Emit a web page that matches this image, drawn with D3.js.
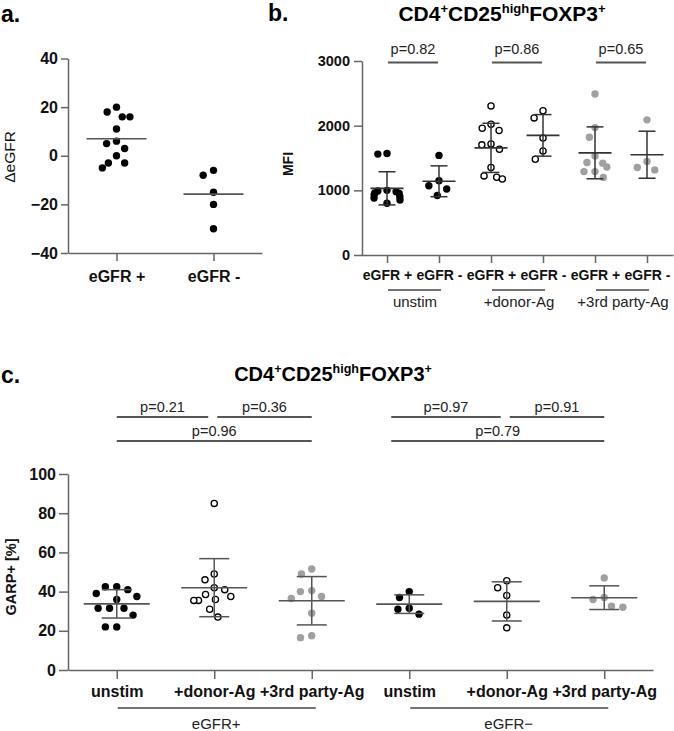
<!DOCTYPE html>
<html>
<head>
<meta charset="utf-8">
<script src="https://cdn.jsdelivr.net/npm/d3@7"></script>
<style>
  body { margin: 0; background: #fff; }
  text { font-family: "Liberation Sans", Arial, Helvetica, sans-serif; }
  .axis path, .axis line { stroke: #666; stroke-width: 1.5; }
  .axis text { fill: #111; font-weight: bold; }
</style>
</head>
<body>
<script>
// panel a: delta eGFR
var aGroups = ["eGFR +", "eGFR -"];
var aValues = [
  [18, 16, 16, 20, 11, 5, 3, 6, 0, -3, -3, -5],
  [-6, -8, -15, -20, -30]
];
var aTicks = [-40, -20, 0, 20, 40];

// panel b: MFI
var bGroups = ["unstim+", "unstim-", "donor+", "donor-", "third+", "third-"];
var bLabels = ["eGFR +", "eGFR -", "eGFR +", "eGFR -", "eGFR +", "eGFR -"];
var bConditions = ["unstim", "+donor-Ag", "+3rd party-Ag"];
var bValues = [
  [1570, 1560, 1000, 990, 980, 960, 950, 930, 900, 880, 850, 800],
  [1540, 1070, 1150, 1020, 920],
  [2306, 2023, 1961, 1925, 1703, 1718, 1636, 1352, 1223, 1176, 1203],
  [2230, 2120, 1810, 1610, 1480],
  [2490, 1970, 1820, 1530, 1420, 1430, 1360, 1290, 1290, 1200],
  [2090, 1445, 1352, 1316]
];
var bTicks = [0, 1000, 2000, 3000];
var bPvalues = ["p=0.82", "p=0.86", "p=0.65"];

// panel c: GARP+ %
var cGroups = ["p-unstim", "p-donor", "p-third", "m-unstim", "m-donor", "m-third"];
var cLabels = ["unstim", "+donor-Ag", "+3rd party-Ag", "unstim", "+donor-Ag", "+3rd party-Ag"];
var cFamilies = ["eGFR+", "eGFR\u2212"];
var cValues = [
  [42.5, 41, 42.5, 39, 36, 37.5, 31.5, 31.5, 31.5, 28, 22, 22],
  [85, 49, 46, 41, 42, 37.5, 38.5, 35.5, 35.5, 36, 31, 27],
  [51.5, 49, 40, 40.5, 36.5, 37.5, 29, 16.5, 17.5],
  [40, 37, 31.5, 31, 28.5],
  [45.5, 42, 38, 28, 21.5],
  [47, 36, 37, 32, 32.5]
];
var cTicks = [0, 20, 40, 60, 80, 100];
// comparisons: [group a, group b, p text, row]
var cComparisons = [
  [0, 1, "p=0.21", 0], [1, 2, "p=0.36", 0], [0, 2, "p=0.96", 1],
  [3, 4, "p=0.97", 0], [4, 5, "p=0.91", 0], [3, 5, "p=0.79", 1]
];

// point style per stimulation: black, open, grey
var fills = ["#000", "#fff", "#a0a0a0"];
var strokes = ["#000", "#000", "#a0a0a0"];

var svg = d3.select("body").append("svg")
    .attr("width", 674)
    .attr("height", 731);

// simple beeswarm: push points sideways until they stop overlapping,
// then squeeze the outer points if the column gets wider than maxHalf
function dodge(vals, y, cx, r, gap, maxHalf) {
  var pts = vals.map(function(v) { return {v: v, y: y(v)}; })
                .sort(function(a, b) { return a.y - b.y; });
  var placed = [];
  var d = 2 * r + gap;
  pts.forEach(function(p) {
    var cands = [0], blocks = [];
    placed.forEach(function(q) {
      var dy = Math.abs(q.y - p.y);
      if (dy < d) {
        var w = Math.sqrt(d * d - dy * dy);
        blocks.push([q.x - w, q.x + w]);
        cands.push(q.x - w, q.x + w);
      }
    });
    cands.sort(function(a, b) { return Math.abs(a) - Math.abs(b); });
    p.x = cands.find(function(c) {
      return blocks.every(function(b) { return c <= b[0] + 1e-6 || c >= b[1] - 1e-6; });
    });
    placed.push(p);
  });
  var widest = d3.max(pts, function(p) { return Math.abs(p.x); });
  pts.forEach(function(p) {
    p.x = cx + (widest > maxHalf ? maxHalf * Math.tanh(p.x / maxHalf) : p.x);
  });
  return pts;
}

function drawGroup(g, vals, cx, y, style, opt) {
  var r = opt.r;
  var pts = dodge(vals, y, cx, r, opt.gap, opt.maxHalf);
  g.selectAll(null)
   .data(pts)
   .enter().append("circle")
   .attr("cx", function(d) { return d.x; })
   .attr("cy", function(d) { return d.y; })
   .attr("r", style == 1 ? r - 0.6 : r)
   .attr("fill", fills[style])
   .attr("stroke", strokes[style])
   .attr("stroke-width", style == 1 ? 1.3 : 0);
  var m = d3.mean(vals);
  g.append("line")
   .attr("x1", cx - opt.meanHalf).attr("x2", cx + opt.meanHalf)
   .attr("y1", y(m)).attr("y2", y(m))
   .attr("stroke", opt.color).attr("stroke-width", 1.6);
  if (opt.sd) {
    var s = d3.deviation(vals);
    g.append("line")
     .attr("x1", cx).attr("x2", cx)
     .attr("y1", y(m - s)).attr("y2", y(m + s))
     .attr("stroke", opt.color).attr("stroke-width", 1.5);
    [m - s, m + s].forEach(function(v) {
      g.append("line")
       .attr("x1", cx - opt.capHalf).attr("x2", cx + opt.capHalf)
       .attr("y1", y(v)).attr("y2", y(v))
       .attr("stroke", opt.color).attr("stroke-width", 1.5);
    });
  }
}

function title(x, y, size, supSize) {
  var t = svg.append("text")
     .attr("x", x).attr("y", y)
     .attr("text-anchor", "middle")
     .attr("font-weight", "bold")
     .attr("font-size", size + "px");
  var parts = [["CD4", 0], ["+", 1], ["CD25", 0], ["high", 1], ["FOXP3", 0], ["+", 1]];
  parts.forEach(function(p, i) {
    var s = t.append("tspan").text(p[0]);
    if (p[1]) s.attr("font-size", supSize + "px").attr("dy", -size * 0.38);
    else if (i > 0) s.attr("dy", size * 0.38);
  });
  return t;
}

function panelLetter(txt, x, y) {
  svg.append("text").attr("x", x).attr("y", y)
     .attr("font-size", "23px").attr("font-weight", "bold").text(txt);
}

function yLabel(txt, x, y, size, weight) {
  svg.append("text")
     .attr("transform", "translate(" + x + "," + y + ") rotate(-90)")
     .attr("text-anchor", "middle")
     .attr("font-size", size + "px")
     .attr("font-weight", weight)
     .attr("fill", "#111")
     .text(txt);
}

// ---------- panel a ----------
panelLetter("a.", 1, 22);
var yA = d3.scaleLinear().domain([-40, 40]).range([253, 58.5]);
var xA = d3.scalePoint().domain(aGroups).range([68, 262]).padding(0.5);

svg.append("g").attr("class", "axis")
   .attr("transform", "translate(68,0)")
   .call(d3.axisLeft(yA).tickValues(aTicks).tickSize(7).tickPadding(3).tickSizeOuter(0))
   .selectAll("text").attr("font-size", "16px");
svg.append("g").attr("class", "axis")
   .attr("transform", "translate(0,253)")
   .call(d3.axisBottom(xA).tickSize(8).tickPadding(10).tickSizeOuter(0))
   .selectAll("text").attr("font-size", "16px");
yLabel("\u0394eGFR", 15, 157, 15.5, "normal");

var gA = svg.append("g");
aGroups.forEach(function(k, i) {
  drawGroup(gA, aValues[i], xA(k), yA, 0,
    {r: 3.7, gap: 4, maxHalf: 18, meanHalf: 30, capHalf: 0, color: "#555", sd: false});
});

// ---------- panel b ----------
panelLetter("b.", 268, 21);
title(502, 21, 21, 13);
var yB = d3.scaleLinear().domain([0, 3000]).range([255, 61]);
var xB = d3.scalePoint().domain(bGroups).range([361, 673]).padding(0.5);

svg.append("g").attr("class", "axis")
   .attr("transform", "translate(362,0)")
   .call(d3.axisLeft(yB).tickValues(bTicks).tickFormat(d3.format("d"))
           .tickSize(8).tickPadding(4).tickSizeOuter(0))
   .selectAll("text").attr("font-size", "14.5px");
svg.append("g").attr("class", "axis")
   .attr("transform", "translate(0,255)")
   .call(d3.axisBottom(xB).tickSize(8).tickPadding(7).tickSizeOuter(0)
           .tickFormat(function(d, i) { return bLabels[i]; }))
   .selectAll("text").attr("font-size", "14px");
yLabel("MFI", 293, 164, 14, "bold");

var gB = svg.append("g");
bGroups.forEach(function(k, i) {
  drawGroup(gB, bValues[i], xB(k), yB, Math.floor(i / 2),
    {r: 3.7, gap: 4, maxHalf: 13, meanHalf: 16.5, capHalf: 8.5, color: "#333", sd: true});
});

bConditions.forEach(function(c, j) {
  var x1 = xB(bGroups[2 * j]), x2 = xB(bGroups[2 * j + 1]);
  svg.append("line")
     .attr("x1", x1 + 1).attr("x2", x2 + 2)
     .attr("y1", 290).attr("y2", 290)
     .attr("stroke", "#444").attr("stroke-width", 1.5);
  svg.append("text")
     .attr("x", (x1 + x2) / 2 + 2).attr("y", 307)
     .attr("text-anchor", "middle").attr("font-size", "15px").attr("fill", "#222")
     .text(c);
  // p-value bar above each pair
  svg.append("line")
     .attr("x1", x1 + 1).attr("x2", x2 - 1)
     .attr("y1", yB(3000) + 1.5).attr("y2", yB(3000) + 1.5)
     .attr("stroke", "#555").attr("stroke-width", 2);
  svg.append("text")
     .attr("x", (x1 + x2) / 2).attr("y", yB(3000) - 7)
     .attr("text-anchor", "middle").attr("font-size", "14.5px").attr("fill", "#222")
     .text(bPvalues[j]);
});

// ---------- panel c ----------
panelLetter("c.", 1, 383);
title(333, 381, 20, 12.5);
var yC = d3.scaleLinear().domain([0, 100]).range([670, 474]);
var xC = d3.scalePoint().domain(cGroups).range([68, 653]).padding(0.5);

svg.append("g").attr("class", "axis")
   .attr("transform", "translate(68,0)")
   .call(d3.axisLeft(yC).tickValues(cTicks).tickSize(9).tickPadding(3).tickSizeOuter(0))
   .selectAll("text").attr("font-size", "16px");
svg.append("g").attr("class", "axis")
   .attr("transform", "translate(0,670)")
   .call(d3.axisBottom(xC).tickSize(9).tickPadding(7).tickSizeOuter(0)
           .tickFormat(function(d, i) { return cLabels[i]; }))
   .selectAll("text").attr("font-size", "16px");
yLabel("GARP+ [%]", 16, 577, 14.5, "bold");

var gC = svg.append("g");
cGroups.forEach(function(k, i) {
  drawGroup(gC, cValues[i], xC(k), yC, i % 3,
    {r: 3.7, gap: 4, maxHalf: 24, meanHalf: 33, capHalf: 15, color: "#555", sd: true});
});

cFamilies.forEach(function(f, j) {
  var x1 = xC(cGroups[3 * j]), x2 = xC(cGroups[3 * j + 2]);
  svg.append("line")
     .attr("x1", x1 + 1).attr("x2", x2 + 4)
     .attr("y1", 708).attr("y2", 708)
     .attr("stroke", "#444").attr("stroke-width", 1.5);
  svg.append("text")
     .attr("x", (x1 + x2) / 2 + 2).attr("y", 729)
     .attr("text-anchor", "middle").attr("font-size", "15px").attr("fill", "#222")
     .text(f);
});

var rowLine = [417, 441];
cComparisons.forEach(function(c) {
  var shift = c[0] >= 3 ? -18 : 0;      // right family sits a bit left in the figure
  var x1 = xC(cGroups[c[0]]) + (c[0] % 3 == 0 ? shift : 3);
  var x2 = xC(cGroups[c[1]]) - (c[1] - c[0] == 1 && c[1] % 3 == 1 ? 6 : 0);
  svg.append("line")
     .attr("x1", x1).attr("x2", x2)
     .attr("y1", rowLine[c[3]]).attr("y2", rowLine[c[3]])
     .attr("stroke", "#555").attr("stroke-width", 1.8);
  svg.append("text")
     .attr("x", (x1 + x2) / 2).attr("y", rowLine[c[3]] - 5)
     .attr("text-anchor", "middle").attr("font-size", "14.5px").attr("fill", "#222")
     .text(c[2]);
});
</script>
</body>
</html>
